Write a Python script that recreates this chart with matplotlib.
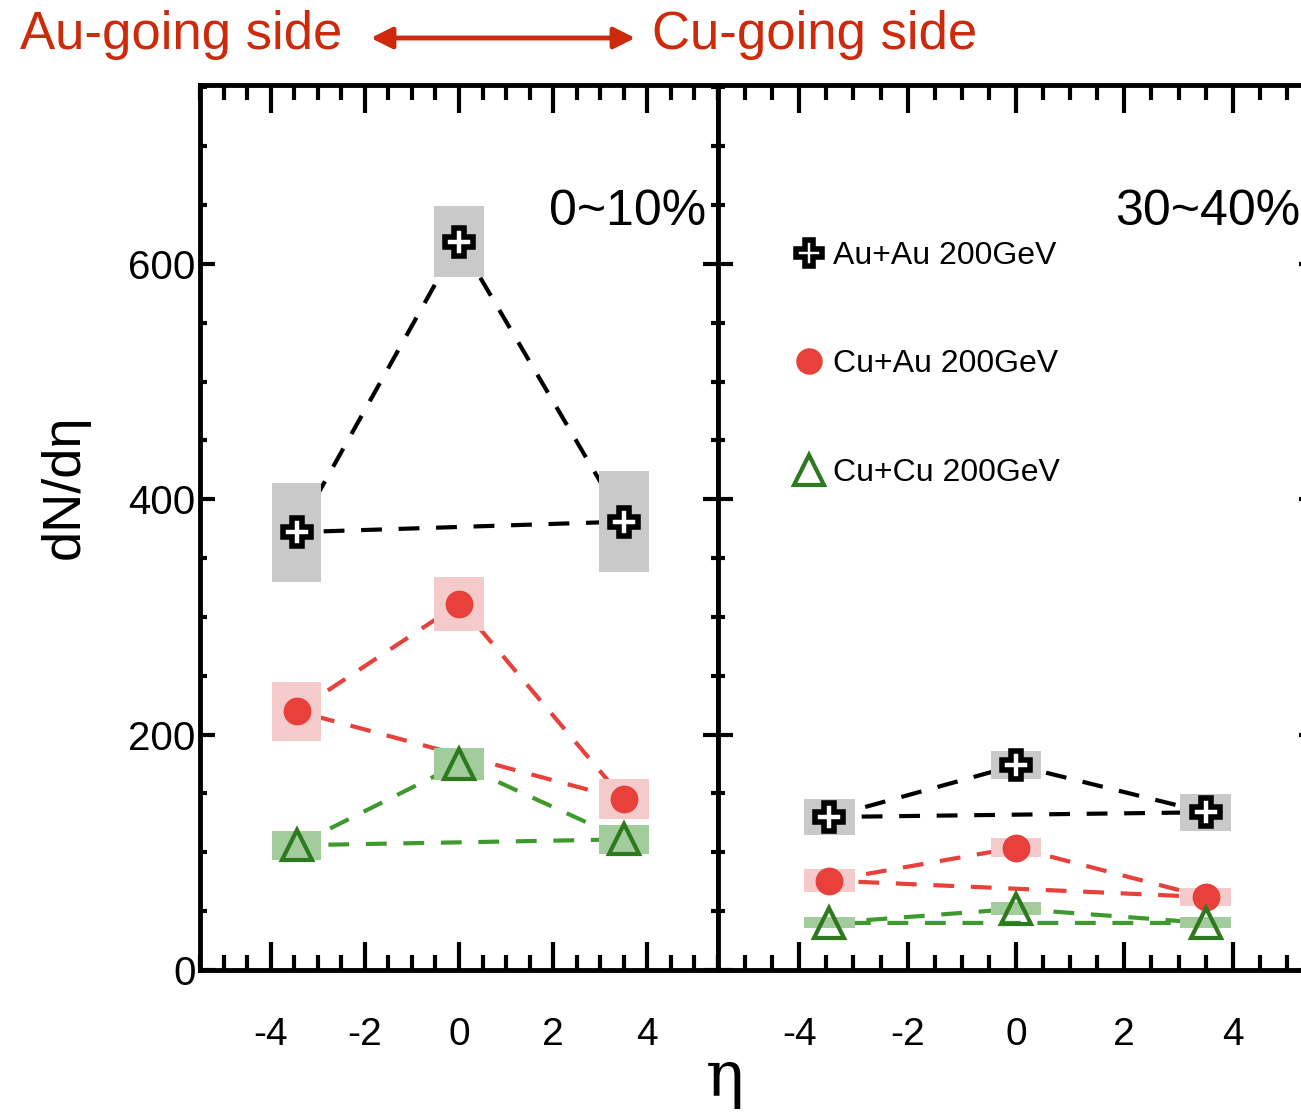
import matplotlib
matplotlib.use("Agg")
import matplotlib.pyplot as plt
from matplotlib.patches import Rectangle, FancyArrowPatch
from matplotlib.ticker import MultipleLocator

plt.rcParams['font.family'] = ['Liberation Sans', 'DejaVu Sans']
plt.rcParams['axes.unicode_minus'] = False

# pseudorapidity positions of the three measurements
eta = [-3.45, 0.0, 3.5]

# 0~10% centrality: dN/deta and systematic half-heights
auau_c = [372, 619, 381]
auau_c_sys = [42, 30, 43]
cuau_c = [220, 311, 145]
cuau_c_sys = [25, 23, 17]
cucu_c = [106, 175, 111]
cucu_c_sys = [12.5, 13.5, 12.5]

# 30~40% centrality
auau_p = [130, 174, 134]
auau_p_sys = [15.5, 12, 15.5]
cuau_p = [76, 104, 62]
cuau_p_sys = [9.5, 8, 7.5]
cucu_p = [40, 52, 40]
cucu_p_sys = [4.7, 5.5, 4.7]

systems = ["Au+Au 200GeV", "Cu+Au 200GeV", "Cu+Cu 200GeV"]
panel_labels = ["0~10%", "30~40%"]

red = '#cc2a0a'
styles = [
    dict(marker='P', mfc='white', mec='black', mew=4, ms=20, line='black', box='#c9c9c9'),
    dict(marker='o', mfc='#e8403a', mec='#e8403a', mew=1, ms=19, line='#e8403a', box='#f5caca'),
    dict(marker='^', mfc='none', mec='#2d7a1e', mew=3, ms=22, line='#3f9a2e', box='#a3cc9c'),
]

fig = plt.figure(figsize=(13.01, 11.13), dpi=100)
ax1 = fig.add_axes([200 / 1301, 1 - 970 / 1113, 518 / 1301, 885 / 1113])
ax2 = fig.add_axes([718 / 1301, 1 - 970 / 1113, 596 / 1301, 885 / 1113])

panels = [
    (ax1, [(auau_c, auau_c_sys), (cuau_c, cuau_c_sys), (cucu_c, cucu_c_sys)], 0.53),
    (ax2, [(auau_p, auau_p_sys), (cuau_p, cuau_p_sys), (cucu_p, cucu_p_sys)], 0.47),
]

for (ax, series, hw), plab in zip(panels, panel_labels):
    for (vals, sys), st, name in zip(series, styles, systems):
        # closed dashed triangle joining the three points
        ax.plot(eta + eta[:1], vals + vals[:1], ls=(0, (5, 4)), lw=3,
                color=st['line'], zorder=1)
        for x, y, s in zip(eta, vals, sys):
            ax.add_patch(Rectangle((x - hw, y - s), 2 * hw, 2 * s,
                                   facecolor=st['box'], edgecolor='none', zorder=2))
        ax.plot(eta, vals, ls='none', marker=st['marker'], mfc=st['mfc'],
                mec=st['mec'], mew=st['mew'], ms=st['ms'], zorder=3, label=name)
    ax.set_xlim(-5.5, 5.5)
    ax.set_ylim(0, 752)
    ax.xaxis.set_major_locator(MultipleLocator(2))
    ax.xaxis.set_minor_locator(MultipleLocator(0.5))
    ax.yaxis.set_major_locator(MultipleLocator(200))
    ax.yaxis.set_minor_locator(MultipleLocator(50))
    ax.tick_params(axis='both', which='both', direction='in', top=True, right=True)
    ax.tick_params(axis='x', which='major', length=20, width=3, labelsize=28, pad=34)
    ax.tick_params(axis='x', which='minor', length=11, width=3)
    ax.tick_params(axis='y', which='major', length=11, width=3, labelsize=29, pad=3)
    ax.tick_params(axis='y', which='minor', length=5, width=3)
    for sp in ax.spines.values():
        sp.set_linewidth(3.5)
    ax.text(0.977, 0.857, plab, transform=ax.transAxes, ha='right', va='center',
            fontsize=36)

ax2.tick_params(axis='y', labelleft=False)

leg = ax2.legend(loc='upper left', bbox_to_anchor=(0.072, 0.856), frameon=False,
                 fontsize=23, labelspacing=2.45, handletextpad=0.15,
                 handlelength=1.2, markerscale=0.95)

fig.text(65 / 1301, 1 - 487 / 1113, 'dN/dη', rotation=90, ha='center', va='center',
         fontsize=39)
fig.text(725 / 1301, 1 - 1078 / 1113, 'η', ha='center', va='center', fontsize=46,
         family='DejaVu Serif')

# beam direction annotation along the top
fig.text(20 / 1301, 1 - 35 / 1113, 'Au-going side', color=red, ha='left',
         va='center', fontsize=38)
fig.text(652 / 1301, 1 - 35 / 1113, 'Cu-going side', color=red, ha='left',
         va='center', fontsize=38)
fig.patches.append(FancyArrowPatch((368 / 1301, 1 - 38 / 1113), (638 / 1301, 1 - 38 / 1113),
                                   transform=fig.transFigure, arrowstyle='<|-|>',
                                   mutation_scale=32, lw=3.5, color=red))

fig.savefig('out.png', dpi=100)
